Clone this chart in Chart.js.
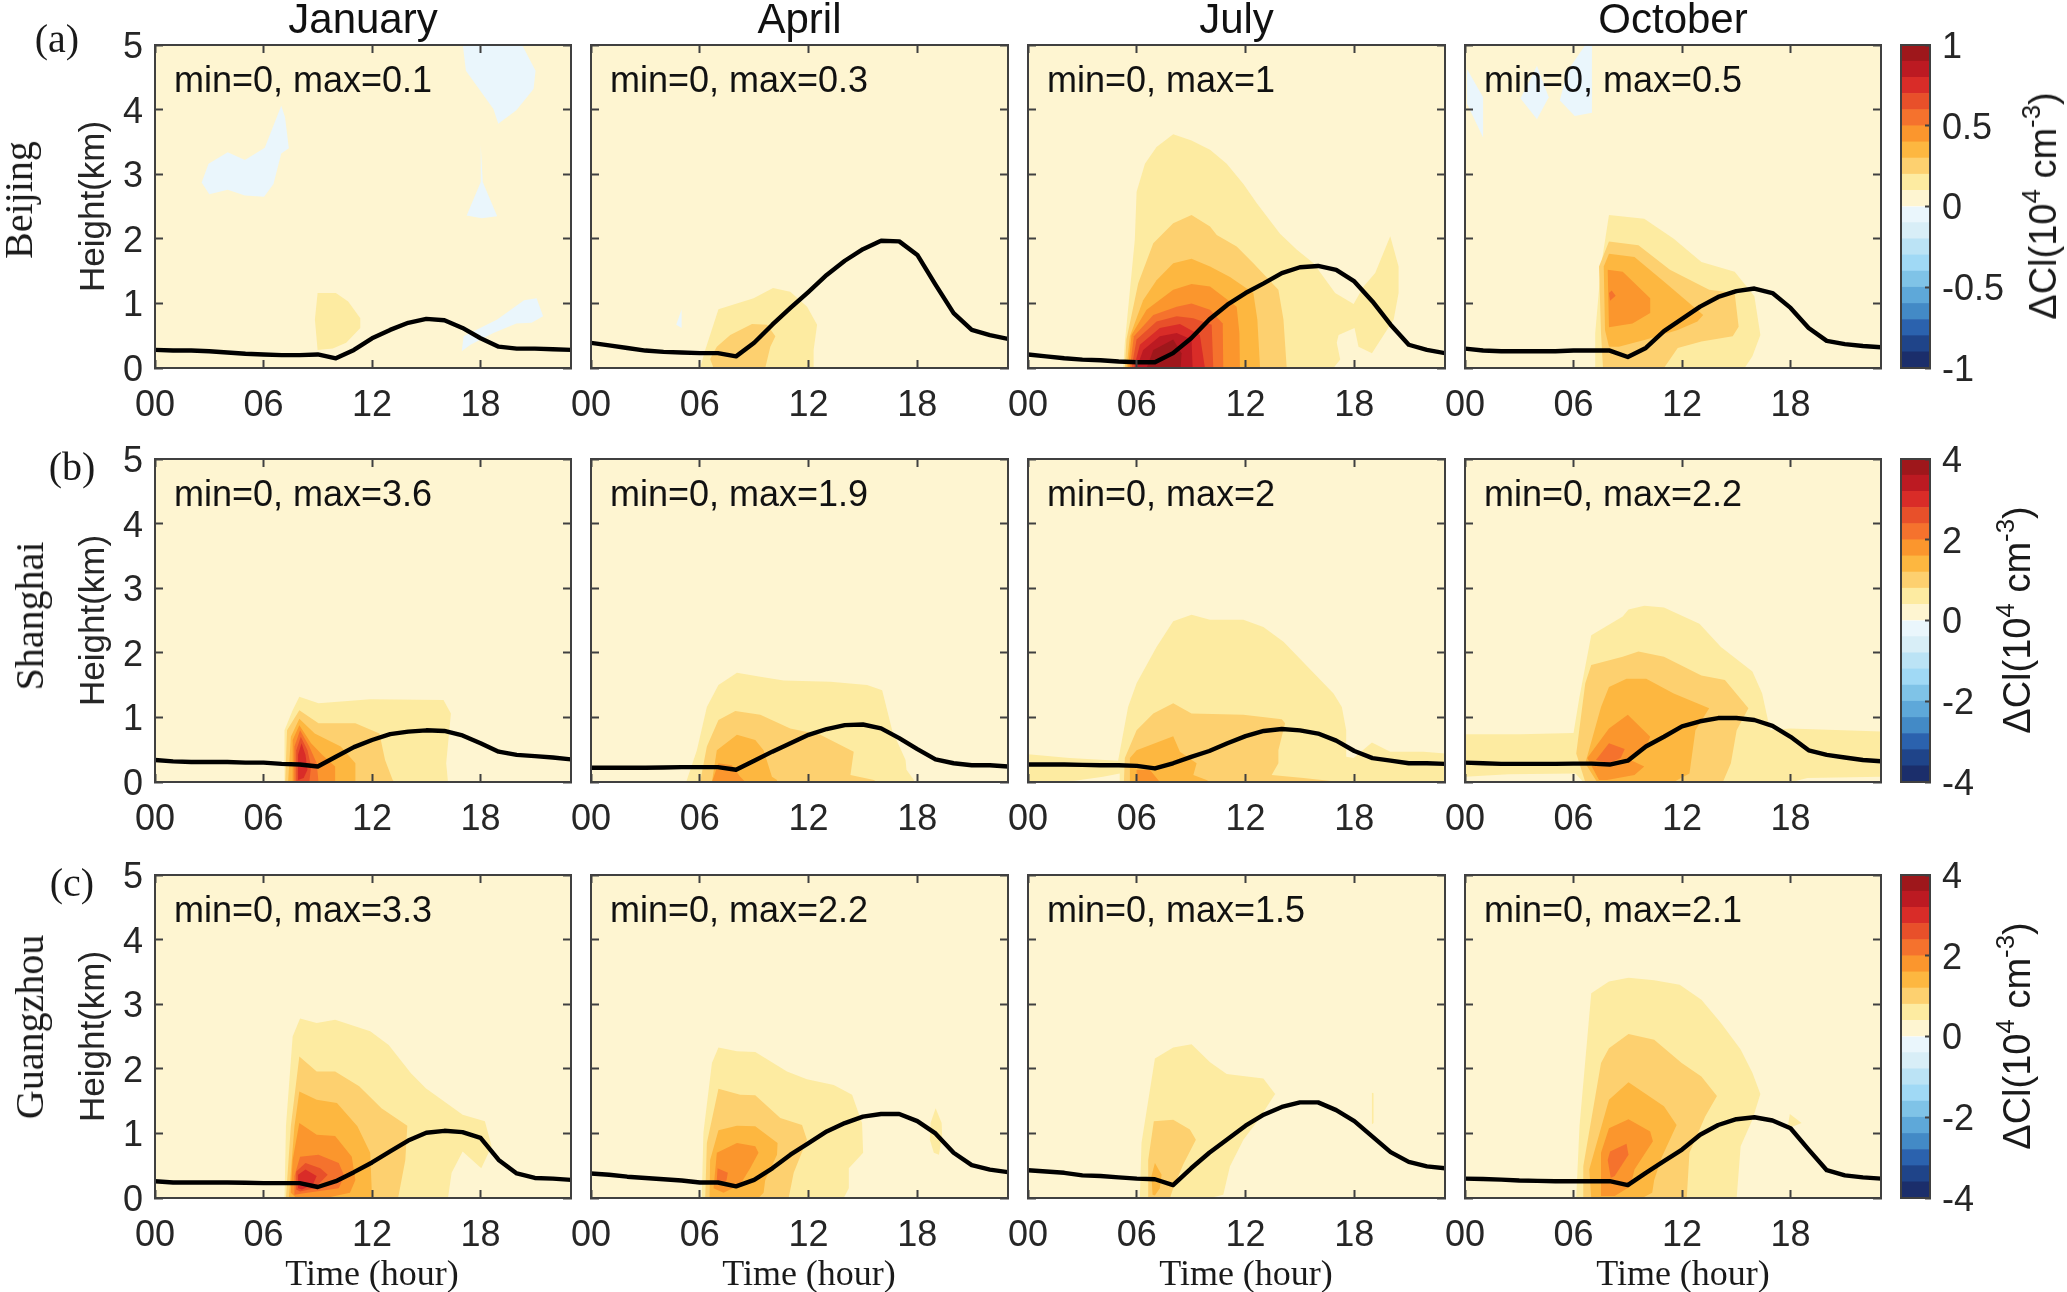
<!DOCTYPE html>
<html>
<head>
<meta charset="utf-8">
<title>Cloud ion change by height and hour</title>
<script src="https://cdn.jsdelivr.net/npm/chart.js@4"></script>
<style>
  html, body { margin: 0; padding: 0; background: #fff; }
  body { position: relative; width: 2067px; height: 1292px; overflow: hidden; }
  canvas { position: absolute; }
  .lbl { position: absolute; white-space: nowrap; color: #1a1a1a; line-height: 1; }
  .lbl sup { font-size: 68%; line-height: 0; vertical-align: baseline; position: relative; top: -0.62em; }
</style>
</head>
<body>
<script>
// ---- labels ----
const months = ['January', 'April', 'July', 'October'];
const cities = ['Beijing', 'Shanghai', 'Guangzhou'];
const rowTags = ['(a)', '(b)', '(c)'];
const xTickLabels = { 0: '00', 6: '06', 12: '12', 18: '18' };
const maxLabels = [
  ['0.1', '0.3', '1', '0.5'],
  ['3.6', '1.9', '2', '2.2'],
  ['3.3', '2.2', '1.5', '2.1']
];

// colour bands from the lowest value up, ten below zero and ten above
const bandColors = ['#1B2E6B', '#1F4489', '#2B62AE', '#438AC6', '#5EA8D9', '#7FC3E7', '#A0D9F5', '#BBE3F5', '#D8EEF7', '#EAF6FC',
  '#FEF5D1', '#FDEBA1', '#FDD06F', '#FDB740', '#FB962D', '#F5722D', '#E8502A', '#D92C28', '#BC1A22', '#9E171B'];
const edgesBeijing = [-1, -0.9, -0.8, -0.7, -0.6, -0.5, -0.4, -0.3, -0.2, -0.1, 0, 0.1, 0.2, 0.3, 0.4, 0.5, 0.6, 0.7, 0.8, 0.9, 1];
const edgesOthers = [-4, -3.6, -3.2, -2.8, -2.4, -2, -1.6, -1.2, -0.8, -0.4, 0, 0.4, 0.8, 1.2, 1.6, 2, 2.4, 2.8, 3.2, 3.6, 4];

// ---- boundary layer height, km, hours 00..23 ----
const hours = [0, 1, 2, 3, 4, 5, 6, 7, 8, 9, 10, 11, 12, 13, 14, 15, 16, 17, 18, 19, 20, 21, 22, 23];
const blhBeijingJan = [.28, .27, .27, .26, .24, .22, .21, .20, .20, .21, .15, .28, .46, .59, .70, .76, .74, .62, .46, .33, .30, .30, .29, .28];
const blhBeijingApr = [.39, .35, .31, .27, .25, .24, .23, .23, .18, .39, .67, .93, 1.18, 1.44, 1.66, 1.84, 1.97, 1.96, 1.75, 1.29, .85, .59, .51, .45];
const blhBeijingJul = [.21, .18, .15, .13, .12, .10, .09, .09, .23, .46, .75, .98, 1.16, 1.31, 1.47, 1.56, 1.58, 1.52, 1.34, 1.03, .67, .36, .28, .23];
const blhBeijingOct = [.30, .27, .26, .26, .26, .26, .27, .27, .27, .17, .31, .57, .76, .95, 1.10, 1.19, 1.23, 1.16, .93, .62, .42, .37, .34, .32];
const blhShanghaiJan = [.34, .32, .31, .31, .31, .30, .30, .28, .27, .24, .39, .54, .65, .74, .78, .80, .79, .72, .60, .47, .42, .40, .38, .35];
const blhShanghaiApr = [.22, .22, .22, .22, .225, .23, .23, .23, .19, .33, .47, .60, .73, .82, .88, .89, .83, .68, .51, .35, .29, .26, .26, .24];
const blhShanghaiJul = [.27, .27, .27, .265, .26, .26, .25, .21, .29, .39, .48, .60, .71, .79, .82, .80, .75, .64, .48, .37, .33, .29, .29, .28];
const blhShanghaiOct = [.30, .29, .28, .28, .28, .28, .285, .285, .27, .33, .55, .70, .86, .94, .99, .99, .96, .87, .70, .49, .42, .38, .34, .32];
const blhGuangzhouJan = [.26, .24, .24, .24, .24, .235, .23, .23, .23, .17, .26, .40, .55, .72, .89, 1.01, 1.04, 1.02, .93, .59, .38, .31, .30, .28];
const blhGuangzhouApr = [.38, .36, .33, .31, .29, .27, .24, .24, .18, .28, .46, .67, .85, 1.03, 1.16, 1.26, 1.30, 1.30, 1.19, 1.00, .70, .51, .44, .40];
const blhGuangzhouJul = [.43, .41, .39, .35, .34, .32, .30, .29, .20, .46, .70, .91, 1.12, 1.29, 1.41, 1.48, 1.48, 1.36, 1.19, .95, .71, .56, .49, .46];
const blhGuangzhouOct = [.30, .295, .285, .27, .265, .26, .26, .26, .26, .20, .39, .57, .75, .98, 1.13, 1.22, 1.25, 1.20, 1.08, .75, .43, .35, .32, .30];

// ---- contour regions: [band above zero (-1 = first band below), [hour, km, hour, km, ...]] ----
const fillBeijingJan = [
  [-1, [2.58, 2.87, 2.96, 3.16, 4.02, 3.34, 4.97, 3.22, 6.07, 3.41, 6.98, 4.06, 7.19, 3.88, 7.40, 3.40, 6.98, 3.32, 6.55, 2.85, 6.03, 2.65, 4.97, 2.67, 4.02, 2.76, 3.0, 2.69]],
  [-1, [17.02, 5, 20.3, 5, 21.04, 4.6, 20.93, 4.32, 19.98, 3.99, 18.98, 3.78, 18.71, 4.01, 17.19, 4.6]],
  [-1, [18.01, 3.45, 18.12, 2.88, 18.92, 2.35, 18.07, 2.32, 17.23, 2.36, 18.01, 2.88]],
  [-1, [16.96, .26, 17.06, .49, 18.92, .75, 20.4, 1.05, 21.1, 1.08, 21.46, .80, 20.82, .70, 19.98, .69, 18.71, .54, 17.44, .36]],
  [1, [8.99, 1.16, 10.0, 1.16, 10.68, 1.03, 11.35, .77, 11.35, .62, 10.57, .39, 9.83, .30, 8.99, .28, 8.84, .75]]
];
const fillBeijingApr = [
  [-1, [5.0, .91, 4.7, .67, 5.0, .62]],
  [1, [6.02, 0, 6.3, .28, 7.03, .91, 8.97, 1.08, 10.04, 1.24, 10.99, 1.18, 11.92, .95, 12.47, .67, 12.28, .28, 12.28, 0]],
  [2, [6.76, 0, 6.57, .14, 6.94, .33, 7.68, .51, 8.88, .68, 9.71, .67, 10.17, .49, 9.89, .33, 9.61, 0]]
];
const fillBeijingJul = [
  [1, [5.25, 0, 5.34, .39, 5.89, 1.98, 5.99, 2.73, 6.45, 3.16, 7.09, 3.42, 8.01, 3.62, 9.02, 3.52, 10.04, 3.38, 10.96, 3.16, 11.88, 2.85, 12.62, 2.55, 13.9, 2.08, 14.83, 1.83, 15.75, 1.62, 16.94, 1.16, 17.96, .99, 18.51, 1.26, 19.15, 1.47, 19.98, 2.04, 20.44, 1.57, 20.44, 1.16, 20.17, .75, 18.97, .23, 18.23, .33, 18.01, .62, 17.13, .51, 17.03, .39, 17.22, .13, 16.85, 0]],
  [2, [5.34, 0, 5.43, .44, 6.08, 1.31, 6.91, 1.93, 8.01, 2.24, 9.02, 2.37, 10.04, 2.19, 10.41, 2.06, 11.51, 1.88, 12.43, 1.62, 13.81, 1.21, 14.09, .75, 14.27, 0]],
  [3, [5.43, 0, 5.62, .49, 6.35, 1.05, 7.09, 1.36, 8.01, 1.62, 9.02, 1.69, 10.04, 1.57, 11.14, 1.41, 12.43, 1.16, 12.65, .75, 12.8, 0]],
  [4, [5.52, 0, 5.71, .51, 6.54, .9, 8.01, 1.21, 9.02, 1.30, 10.04, 1.26, 11.51, .95, 11.66, .54, 11.69, 0]],
  [5, [5.62, 0, 5.84, .49, 6.91, .82, 8.2, .95, 9.02, 1.0, 10.04, .9, 10.74, .69, 10.77, 0]],
  [6, [5.71, 0, 5.99, .44, 7.09, .72, 8.2, .80, 9.12, .77, 10.13, .67, 10.22, 0]],
  [7, [5.84, 0, 6.17, .36, 7.27, .62, 8.38, .68, 9.48, .51, 9.76, 0]],
  [8, [5.99, 0, 6.35, .28, 7.27, .49, 8.2, .54, 9.02, .44, 9.08, 0]],
  [9, [6.54, 0, 6.91, .28, 8.01, .44, 8.47, .23, 8.42, 0]]
];
const fillBeijingOct = [
  [-1, [.11, 4.63, 1.0, 4.19, 1.0, 3.57, .11, 4.09]],
  [-1, [3.07, 4.17, 3.98, 4.68, 4.63, 4.19, 3.98, 3.85]],
  [-1, [6.65, 5, 7.02, 5, 7.02, 3.95, 6.07, 3.9, 5.24, 4.14, 5.67, 4.6]],
  [1, [7.24, 0, 7.2, .54, 7.52, 1.57, 7.96, 2.37, 9.91, 2.31, 11.54, 2.0, 13.07, 1.64, 14.91, 1.49, 16.0, 1.11, 16.33, .51, 15.89, .18, 15.46, 0]],
  [2, [7.63, 0, 7.52, .54, 7.41, 1.57, 7.96, 1.96, 9.59, 1.9, 11.33, 1.52, 13.5, 1.21, 14.91, 1.16, 15.13, .64, 14.8, .49, 13.07, .41, 11.76, .31, 11.0, 0]],
  [3, [7.96, .33, 7.74, .59, 7.67, 1.57, 7.96, 1.77, 9.37, 1.72, 11.11, 1.31, 13.17, .82, 12.85, .72, 11.76, .59, 10.02, .44, 8.5, .33]],
  [4, [7.96, .63, 7.89, 1.52, 8.72, 1.49, 10.24, 1.08, 10.24, .85, 9.26, .69]],
  [5, [7.96, 1.16, 8.11, 1.2, 8.33, 1.12, 8.02, 1.04]]
];
const fillShanghaiJan = [
  [1, [7.14, 0, 7.16, .8, 7.61, 1.11, 7.98, 1.32, 9.04, 1.22, 11.9, 1.28, 15.95, 1.27, 16.36, 1.06, 16.1, .29, 16.2, 0]],
  [2, [7.2, 0, 7.3, .8, 7.98, 1.11, 9.04, .91, 11.08, .91, 12.41, .75, 12.72, .34, 13.13, .04, 13.23, 0]],
  [3, [7.36, 0, 7.51, .7, 7.98, .98, 8.83, .75, 10.27, .55, 11.08, .29, 11.08, 0]],
  [4, [7.61, 0, 7.61, .65, 7.98, .88, 8.63, .6, 9.24, .42, 9.96, .24, 9.96, 0]],
  [5, [7.71, 0, 7.71, .55, 8.02, .8, 8.53, .55, 8.94, .29, 9.04, 0]],
  [6, [7.81, 0, 7.81, .49, 8.06, .7, 8.43, .49, 8.63, .24, 8.53, 0]],
  [7, [7.91, .03, 7.91, .42, 8.1, .6, 8.32, .42, 8.43, .19, 8.22, .06]]
];
const fillShanghaiApr = [
  [1, [5.25, 0, 5.84, .49, 6.39, 1.16, 7.03, 1.5, 8.05, 1.69, 9.34, 1.63, 10.63, 1.57, 13.2, 1.55, 15.23, 1.5, 16.06, 1.42, 16.61, .8, 17.35, .34, 17.4, .19, 17.81, .03, 17.81, 0]],
  [2, [6.02, 0, 6.39, .55, 7.03, .96, 7.96, 1.1, 9.34, 1.04, 10.99, .83, 12.65, .73, 14.49, .47, 14.31, .11, 15.6, .03, 15.78, 0]],
  [3, [6.67, 0, 6.94, .49, 8.05, .73, 9.06, .65, 9.52, .49, 9.98, .08, 10.26, .03, 10.26, 0]],
  [4, [6.67, 0, 7.03, .29, 7.77, .26, 8.23, .08, 8.51, 0]]
];
const fillShanghaiJul = [
  [1, [0, 0, 0, .43, 2.3, .37, 4.97, .33, 5.52, 1.16, 5.99, 1.53, 7.09, 2.09, 8.01, 2.49, 9.02, 2.59, 10.04, 2.51, 11.88, 2.51, 12.98, 2.4, 14.09, 2.17, 16.85, 1.37, 17.31, 1.16, 17.55, .8, 17.55, .39, 17.96, .37, 18.97, .61, 19.98, .47, 21.82, .47, 23, .44, 23, 0, 5.06, 0, 5.06, .13, 4.14, .08, 2.58, .02]],
  [2, [5.29, 0, 5.34, .37, 5.99, .8, 6.91, 1.06, 8.01, 1.22, 9.02, 1.06, 11.88, 1.04, 14.0, .97, 14.18, .91, 13.81, .49, 13.81, .29, 13.44, .11, 15.19, .06, 17.22, 0]],
  [3, [5.62, 0, 5.62, .37, 5.99, .49, 8.01, .71, 8.38, .47, 9.3, .29, 9.12, .11, 9.85, .03, 10.04, 0]],
  [4, [5.99, 0, 5.99, .19, 6.72, .19, 7.09, .06, 7.27, 0]]
];
const fillShanghaiOct = [
  [1, [0, .74, 3.07, .74, 6, .76, 6.33, 1.32, 6.98, 2.27, 8.72, 2.56, 9.04, 2.67, 9.91, 2.73, 11, 2.7, 12.96, 2.45, 14.15, 2.09, 15.89, 1.71, 16.43, 1.37, 16.87, .8, 17.96, .83, 23, .78, 23, .08, 18.93, .06, 18.07, 0, 6.54, 0, 6.11, .13, 2.41, .12, 0, .08]],
  [2, [6.65, 0, 6.15, .44, 6.65, 1.53, 6.98, 1.81, 8.72, 1.94, 9.59, 2.02, 11.0, 1.94, 13.07, 1.65, 14.37, 1.58, 15.67, 1.14, 15.02, .8, 14.7, .29, 14.26, 0]],
  [3, [7.3, 0, 6.65, .29, 7.52, 1.16, 7.96, 1.47, 8.93, 1.6, 10.02, 1.6, 11.54, 1.37, 13.5, 1.14, 12.74, .8, 12.41, .13, 11.54, 0]],
  [4, [7.41, .03, 6.76, .37, 7.96, .83, 9.0, 1.04, 10.24, .7, 10.02, .55, 9.15, .34, 9.91, .24, 9.37, .11, 7.85, .03]],
  [5, [7.24, .34, 7.96, .6, 8.83, .51, 8.61, .37, 7.96, .29]]
];
const fillGuangzhouJan = [
  [1, [7.16, 0, 7.24, 1.11, 7.61, 2.5, 8.02, 2.78, 8.94, 2.71, 9.96, 2.76, 11.9, 2.58, 12.92, 2.37, 14.15, 1.93, 14.97, 1.7, 17.01, 1.29, 18.24, 1.19, 18.61, .8, 18.04, .46, 17.01, .72, 16.4, .39, 16.2, 0]],
  [2, [7.24, 0, 7.51, 1.11, 7.98, 2.19, 8.94, 1.96, 9.96, 1.96, 11.29, 1.73, 12.52, 1.39, 13.95, 1.12, 13.84, .59, 13.44, 0]],
  [3, [7.4, 0, 7.71, 1.11, 7.98, 1.65, 8.94, 1.52, 10.06, 1.47, 11.19, 1.11, 11.9, .7, 12.0, 0]],
  [4, [7.51, .08, 7.61, .59, 7.98, 1.16, 8.94, .98, 9.96, .96, 10.88, .64, 11.08, .28, 10.78, .08, 9.45, 0, 7.81, 0]],
  [5, [7.71, .05, 7.71, .34, 8.02, .64, 9.04, .67, 10.16, .54, 10.47, .34, 10.16, .15, 8.43, .08]],
  [6, [7.81, .13, 7.81, .41, 8.32, .54, 9.14, .46, 9.55, .36, 8.83, .15, 8.02, .1]],
  [7, [7.91, .15, 7.91, .36, 8.32, .44, 8.94, .34, 8.73, .21, 8.12, .13]]
];
const fillGuangzhouApr = [
  [1, [6.11, 0, 6.2, 1.01, 6.67, 2.09, 7.03, 2.33, 8.05, 2.27, 9.06, 2.26, 10.81, 1.96, 11.91, 1.84, 13.39, 1.75, 14.4, 1.6, 14.95, 1.16, 15.01, .7, 14.22, .46, 14.22, .15, 13.94, 0]],
  [1, [19.01, 1.39, 19.34, 1.16, 19.37, .95, 19.19, .67, 18.91, .7, 18.69, .9, 18.73, 1.16]],
  [2, [6.3, 0, 6.39, .85, 7.03, 1.69, 8.23, 1.6, 9.06, 1.59, 10.44, 1.24, 11.64, 1.13, 11.91, .9, 11.18, .39, 10.9, 0]],
  [3, [6.54, 0, 6.57, .59, 7.03, 1.05, 8.05, 1.12, 9.06, 1.11, 10.29, .85, 10.26, .67, 9.61, .28, 9.52, .08, 9.24, 0]],
  [4, [6.76, .15, 6.94, .7, 8.05, .85, 9.06, .8, 9.24, .7, 8.78, .46, 8.23, .21, 7.31, .08]],
  [5, [6.94, .28, 6.98, .46, 7.55, .39, 7.46, .26, 7.09, .24]]
];
const fillGuangzhouJul = [
  [1, [6.17, 0, 6.26, .85, 7.0, 2.16, 8.01, 2.33, 9.02, 2.38, 10.04, 2.1, 10.96, 1.92, 12.98, 1.85, 13.63, 1.61, 12.71, 1.21, 11.88, .9, 11.14, .49, 10.77, .05, 10.04, 0]],
  [1, [18.97, 1.63, 19.06, 1.62, 19.06, 1.16, 18.97, 1.14]],
  [2, [6.63, 0, 6.63, .59, 6.94, 1.19, 8.01, 1.21, 8.93, 1.06, 9.26, .9, 8.56, .52, 8.01, .15, 7.83, 0]],
  [3, [6.87, .05, 6.81, .34, 7.0, .54, 7.37, .36, 7.27, .15, 7.0, .04]]
];
const fillGuangzhouOct = [
  [1, [6.15, 0, 6.33, 1.11, 6.98, 3.17, 7.96, 3.35, 9.04, 3.41, 10.46, 3.37, 11.87, 3.3, 13.07, 3.07, 14.15, 2.71, 15.24, 2.3, 15.89, 1.94, 16.33, 1.61, 15.89, 1.21, 15.24, .8, 15.02, 0]],
  [1, [17.96, 1.3, 18.61, 1.16, 18.17, 1.11, 17.85, 1.11]],
  [2, [6.54, 0, 6.54, .49, 7.52, 2.09, 7.96, 2.32, 9.04, 2.54, 10.46, 2.45, 11.98, 2.09, 13.07, 1.88, 13.93, 1.58, 13.28, 1.26, 12.41, .7, 12.26, 0]],
  [3, [6.98, 0, 6.87, .44, 7.96, 1.52, 9.04, 1.79, 11.0, 1.42, 11.7, 1.13, 10.89, .64, 10.46, .28, 10.35, .08, 9.8, 0]],
  [4, [7.52, .03, 7.52, .7, 7.96, 1.08, 9.04, 1.22, 10.24, 1.03, 10.39, .88, 9.37, .44, 9.15, .18, 8.28, .03]],
  [5, [7.89, .59, 8.02, .72, 8.93, .84, 9.04, .67, 8.28, .34, 8.06, .31]]
];
// whole frame is the first band above zero
const frameRegion = [0, 0, 23, 0, 23, 5, 0, 5];

const blhGrid = [
  [blhBeijingJan, blhBeijingApr, blhBeijingJul, blhBeijingOct],
  [blhShanghaiJan, blhShanghaiApr, blhShanghaiJul, blhShanghaiOct],
  [blhGuangzhouJan, blhGuangzhouApr, blhGuangzhouJul, blhGuangzhouOct]
];
const fillGrid = [
  [fillBeijingJan, fillBeijingApr, fillBeijingJul, fillBeijingOct],
  [fillShanghaiJan, fillShanghaiApr, fillShanghaiJul, fillShanghaiOct],
  [fillGuangzhouJan, fillGuangzhouApr, fillGuangzhouJul, fillGuangzhouOct]
];

// ---- page layout ----
const colLefts = [155, 591, 1028, 1465];
const colRights = [571, 1008, 1445, 1881];
const rowTops = [45, 459, 875];
const rowBottoms = [368, 782, 1198];
const timeCenters = [372, 809, 1246, 1683];
const cbarLeft = 1901, cbarRight = 1930;

const frameColor = '#404040';
const textColor = '#262626';
const sans = "'Liberation Sans', Arial, sans-serif";
const serif = "'Liberation Serif', 'Times New Roman', serif";
Chart.defaults.font.family = sans;
Chart.defaults.color = textColor;

function addCanvas(left, top, w, h) {
  const c = document.createElement('canvas');
  c.width = w;
  c.height = h;
  c.style.left = left + 'px';
  c.style.top = top + 'px';
  document.body.appendChild(c);
  return c;
}

function addLabel(html, x, y, font, rotate) {
  const d = document.createElement('div');
  d.className = 'lbl';
  d.innerHTML = html;
  d.style.left = x + 'px';
  d.style.top = y + 'px';
  d.style.font = font;
  d.style.lineHeight = '1';
  d.style.transform = 'translate(-50%,-50%)' + (rotate ? ' rotate(-90deg)' : '');
  document.body.appendChild(d);
}

function toPoints(flat) {
  const pts = [];
  for (let i = 0; i < flat.length; i += 2) pts.push({ x: flat[i], y: flat[i + 1] });
  return pts;
}

// every axis is a fixed size so that the plot frames land where they should
function fixedSize(prop, size) {
  return (scale) => { scale[prop] = size; };
}

function frameAxis(position, size, extra) {
  const vertical = position === 'left' || position === 'right';
  const base = {
    position: position,
    border: { color: frameColor, width: 2, z: 1 },
    grid: { drawOnChartArea: false, tickLength: -8, tickWidth: 2, tickColor: frameColor, z: 1 },
    ticks: { display: false, autoSkip: false, maxRotation: 0, includeBounds: false },
    afterFit: fixedSize(vertical ? 'width' : 'height', size)
  };
  return Object.assign(base, extra);
}

// writes the min/max note inside a panel
const notePlugin = {
  id: 'note',
  afterDatasetsDraw(chart, args, opts) {
    const ctx = chart.ctx;
    ctx.save();
    ctx.font = '36px ' + sans;
    ctx.fillStyle = '#111';
    ctx.textBaseline = 'alphabetic';
    ctx.fillText(opts.text, chart.chartArea.left + 19, chart.chartArea.top + 47);
    ctx.restore();
  }
};

function drawPanel(r, c) {
  const marginLeft = c === 0 ? colLefts[0] : 50;
  const marginTop = 45, marginRight = 3, marginBottom = 62;
  const w = colRights[c] - colLefts[c] + marginLeft + marginRight;
  const h = rowBottoms[r] - rowTops[r] + marginTop + marginBottom;
  const canvas = addCanvas(colLefts[c] - marginLeft, rowTops[r] - marginTop, w, h);

  const regions = [[0, frameRegion]].concat(fillGrid[r][c]);
  const datasets = regions.map((reg, i) => ({
    data: toPoints(reg[1]),
    showLine: true,
    fill: 'shape',
    backgroundColor: bandColors[10 + reg[0]],
    borderColor: 'transparent',
    borderWidth: 0,
    pointRadius: 0,
    tension: 0,
    order: 100 - i
  }));
  datasets.push({
    data: blhGrid[r][c].map((v, i) => ({ x: hours[i], y: v })),
    showLine: true,
    fill: false,
    borderColor: '#000',
    borderWidth: 4.4,
    borderJoinStyle: 'round',
    pointRadius: 0,
    tension: 0,
    order: 0
  });

  const xTicks = {
    display: true, stepSize: 6, padding: 24, autoSkip: false, maxRotation: 0, includeBounds: false,
    font: { size: 36 }, color: textColor,
    callback: (v) => xTickLabels[v]
  };
  const yTicks = {
    display: c === 0, stepSize: 1, padding: 20, labelOffset: 3, autoSkip: false, includeBounds: false,
    font: { size: 36 }, color: textColor
  };

  new Chart(canvas, {
    type: 'scatter',
    data: { datasets: datasets },
    plugins: [notePlugin],
    options: {
      responsive: false,
      animation: false,
      events: [],
      layout: { padding: 0 },
      plugins: {
        legend: { display: false },
        tooltip: { enabled: false },
        note: { text: 'min=0, max=' + maxLabels[r][c] }
      },
      scales: {
        x: frameAxis('bottom', marginBottom, { type: 'linear', min: 0, max: 23, ticks: xTicks }),
        xTop: frameAxis('top', marginTop, {
          type: 'linear', min: 0, max: 23,
          ticks: { display: false, stepSize: 6, includeBounds: false, autoSkip: false },
          title: {
            display: r === 0, text: months[c], color: '#111',
            font: { size: 42 }, padding: { top: -4, bottom: 0 }
          }
        }),
        y: frameAxis('left', marginLeft, {
          type: 'linear', min: 0, max: 5, ticks: yTicks,
          title: {
            display: c === 0, text: 'Height(km)', color: textColor,
            font: { size: 35 }, padding: { top: 73, bottom: 0 }
          }
        }),
        yRight: frameAxis('right', marginRight, {
          type: 'linear', min: 0, max: 5,
          ticks: { display: false, stepSize: 1, includeBounds: false, autoSkip: false }
        })
      }
    }
  });
}

function drawColorbar(r) {
  const edges = r === 0 ? edgesBeijing : edgesOthers;
  const top = edges[edges.length - 1];
  const marginLeft = 2, marginTop = 45, marginRight = 100, marginBottom = 45;
  const canvas = addCanvas(cbarLeft - marginLeft, rowTops[r] - marginTop,
    cbarRight - cbarLeft + marginLeft + marginRight, rowBottoms[r] - rowTops[r] + marginTop + marginBottom);

  const datasets = bandColors.map((color, i) => ({
    data: [[edges[i], edges[i + 1]]],
    backgroundColor: color,
    borderWidth: 0,
    grouped: false,
    barPercentage: 1,
    categoryPercentage: 1
  }));
  const noTicks = { grid: { drawOnChartArea: false, drawTicks: false, z: 1 } };

  new Chart(canvas, {
    type: 'bar',
    data: { labels: [''], datasets: datasets },
    options: {
      responsive: false,
      animation: false,
      events: [],
      layout: { padding: 0 },
      plugins: { legend: { display: false }, tooltip: { enabled: false } },
      scales: {
        x: frameAxis('bottom', marginBottom, Object.assign({ type: 'category' }, noTicks)),
        xTop: frameAxis('top', marginTop, Object.assign({ type: 'linear', min: 0, max: 1 }, noTicks)),
        yLeft: frameAxis('left', marginLeft, Object.assign({ type: 'linear', min: -top, max: top }, noTicks)),
        y: frameAxis('right', marginRight, {
          type: 'linear', min: -top, max: top,
          grid: { drawOnChartArea: false, tickLength: -5, tickWidth: 2, tickColor: frameColor, z: 1 },
          ticks: {
            display: true, stepSize: top / 2, padding: 17, labelOffset: 3, autoSkip: false, includeBounds: false,
            font: { size: 36 }, color: textColor,
            callback: (v) => String(v)
          }
        })
      }
    }
  });
}

for (let r = 0; r < cities.length; r++) {
  for (let c = 0; c < months.length; c++) drawPanel(r, c);
  drawColorbar(r);
}

// text that sits outside the axes
const tagSpots = [[57, 39], [72, 467], [72, 883]];
const citySpots = [[19, 200], [30, 616], [30, 1027]];
const cbarTitleSpots = [[2043, 206], [2017, 620], [2017, 1036]];
for (let r = 0; r < cities.length; r++) {
  addLabel(rowTags[r], tagSpots[r][0], tagSpots[r][1], '40px ' + serif, false);
  addLabel(cities[r], citySpots[r][0], citySpots[r][1], '40px ' + serif, true);
  addLabel('&Delta;Cl(10<sup>4</sup> cm<sup>-3</sup>)', cbarTitleSpots[r][0], cbarTitleSpots[r][1], '38px ' + sans, true);
}
for (let c = 0; c < months.length; c++) {
  addLabel('Time (hour)', timeCenters[c], 1273, '36px ' + serif, false);
}
</script>
</body>
</html>
